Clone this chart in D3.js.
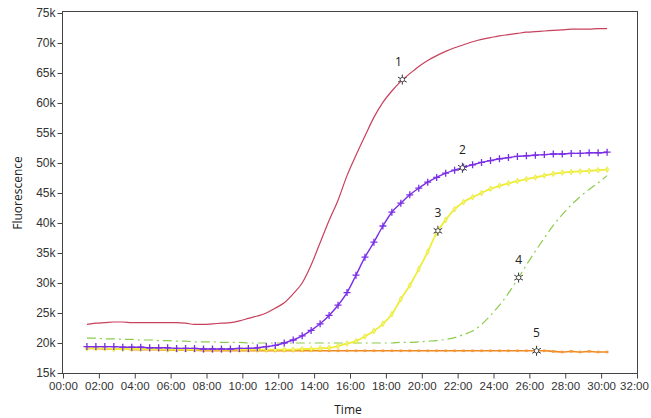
<!DOCTYPE html>
<html>
<head>
<meta charset="utf-8">
<script src="https://cdn.jsdelivr.net/npm/d3@7"></script>
<style>
  body { margin: 0; background: #fff; }
  svg { display: block; font-family: "Segoe UI", "Open Sans", sans-serif; }
</style>
</head>
<body>
<div id="chart"></div>
<script>
// Sampling times (minutes)
const times = [80,110,140,170,200,230,260,290,320,350,380,410,440,470,500,530,560,590,620,650,
  680,710,740,770,800,830,860,890,920,950,980,1010,1040,1070,1100,1130,1160,1190,1220,1250,
  1280,1310,1340,1370,1400,1430,1460,1490,1520,1550,1580,1610,1640,1670,1700,1730,1760,1790,1820];

// Fluorescence values (thousands)
const curve1 = [23.1,23.3,23.4,23.5,23.5,23.4,23.4,23.4,23.4,23.4,
  23.4,23.3,23.1,23.1,23.2,23.3,23.4,23.7,24.1,24.5,
  25.0,25.8,26.7,28.2,30.0,33.0,36.7,40.4,43.8,47.9,
  51.3,54.5,57.6,60.1,62.0,63.6,64.9,66.1,67.1,67.9,
  68.6,69.2,69.7,70.2,70.6,70.9,71.2,71.4,71.6,71.8,
  71.9,72.0,72.1,72.2,72.3,72.3,72.3,72.4,72.4];
const curve2 = [19.4,19.4,19.4,19.4,19.3,19.3,19.3,19.2,19.2,19.2,
  19.1,19.1,19.1,19.0,19.0,19.0,19.0,19.1,19.1,19.2,
  19.4,19.6,20.0,20.5,21.2,22.1,23.2,24.6,26.3,28.4,
  31.3,34.3,36.8,39.5,41.8,43.3,44.7,45.8,46.8,47.6,
  48.3,48.8,49.3,49.7,50.1,50.4,50.7,50.9,51.1,51.2,
  51.3,51.4,51.5,51.5,51.6,51.6,51.7,51.7,51.8];
const curve3 = [19.1,19.1,19.1,19.0,19.0,19.0,19.0,19.0,19.0,18.9,
  18.9,18.9,18.9,18.9,18.9,18.9,18.9,18.9,18.9,18.9,
  18.9,18.9,18.9,18.9,19.0,19.0,19.1,19.2,19.5,19.9,
  20.3,21.1,22.0,23.2,24.8,27.3,29.6,32.3,35.2,38.4,
  40.5,42.3,43.5,44.3,45.0,45.7,46.2,46.6,47.0,47.3,
  47.6,47.9,48.2,48.4,48.5,48.6,48.7,48.8,48.9];
const curve4 = [20.8,20.8,20.7,20.7,20.6,20.6,20.5,20.5,20.4,20.4,
  20.3,20.3,20.2,20.2,20.2,20.1,20.1,20.1,20.0,20.0,
  20.0,20.0,20.0,20.0,20.0,20.0,20.0,20.0,20.0,20.0,
  20.0,20.0,20.0,20.0,20.0,20.1,20.1,20.2,20.3,20.4,
  20.6,20.9,21.4,22.0,23.1,24.6,26.3,28.3,30.6,33.0,
  35.3,37.5,39.6,41.4,43.0,44.4,45.6,46.7,47.9];
const curve5 = [19.1,19.1,19.0,19.0,19.0,18.9,18.9,18.9,18.9,18.8,
  18.8,18.8,18.8,18.7,18.7,18.7,18.7,18.7,18.7,18.7,
  18.7,18.7,18.7,18.7,18.7,18.7,18.7,18.7,18.7,18.7,
  18.7,18.7,18.7,18.7,18.7,18.7,18.7,18.7,18.7,18.7,
  18.7,18.7,18.7,18.7,18.7,18.7,18.7,18.7,18.7,18.7,
  18.7,18.7,18.6,18.5,18.6,18.5,18.6,18.5,18.5];

// Labelled points on each curve
const noteLabels = ["1", "2", "3", "4", "5"];
const noteTimes = [1135, 1336, 1254, 1524, 1584];
const noteValues = [63.9, 49.2, 38.7, 30.9, 18.7];

const width = 651, height = 418;
const margins = {top: 13, right: 14, bottom: 45, left: 63};

const svg = d3.select("#chart")
  .append("svg")
  .attr("width", width)
  .attr("height", height);

const x = d3.scaleLinear()
  .domain([0, 1920])
  .range([margins.left, width - margins.right]);

const y = d3.scaleLinear()
  .domain([15, 75])
  .range([height - margins.bottom, margins.top]);

// Plot frame
svg.append("rect")
  .attr("x", margins.left - 0.5)
  .attr("y", margins.top - 1.5)
  .attr("width", width - margins.right - margins.left + 1)
  .attr("height", height - margins.bottom - margins.top + 2)
  .attr("fill", "none")
  .attr("stroke", "#444")
  .attr("stroke-width", 1);

// Axes
const fmtTime = m => d3.format("02d")(Math.floor(m / 60)) + ":00";

const xAxis = d3.axisBottom(x)
  .tickValues(d3.range(0, 1921, 120))
  .tickFormat(fmtTime)
  .tickSize(5)
  .tickPadding(3);

svg.append("g")
    .attr("transform", `translate(0,${height - margins.bottom + 0.5})`)
  .call(xAxis)
  .call(g => g.select(".domain").remove())
  .call(g => g.selectAll("line").attr("stroke", "#444"))
  .call(g => g.selectAll("text").attr("fill", "#333").style("font-size", "11.5px"))
  // keep the last label inside the window
  .call(g => g.selectAll("text").filter(d => d === 1920).attr("dx", "-3"));

const yAxis = d3.axisLeft(y)
  .tickValues(d3.range(15, 76, 5))
  .tickFormat(d => d + "k")
  .tickSize(5)
  .tickPadding(2);

svg.append("g")
    .attr("transform", `translate(${margins.left - 0.5},0)`)
  .call(yAxis)
  .call(g => g.select(".domain").remove())
  .call(g => g.selectAll("line").attr("stroke", "#444"))
  .call(g => g.selectAll("text").attr("fill", "#333").style("font-size", "12px"));

// Axis titles
svg.append("text")
  .attr("x", (margins.left + width - margins.right) / 2 - 2)
  .attr("y", 414)
  .attr("text-anchor", "middle")
  .style("font-size", "12px")
  .attr("fill", "#222")
  .text("Time");

svg.append("text")
  .attr("transform", `translate(22,${(margins.top + height - margins.bottom) / 2}) rotate(-90)`)
  .attr("text-anchor", "middle")
  .style("font-size", "12px")
  .attr("fill", "#222")
  .text("Fluorescence");

const line = d3.line()
  .curve(d3.curveMonotoneX)
  .x(d => x(d[0]))
  .y(d => y(d[1]));

const pts = vals => times.map((t, i) => [t, vals[i]]);

const plot = svg.append("g");

// Curve 4: green dash-dot
plot.append("path")
  .attr("d", line(pts(curve4)))
  .attr("fill", "none")
  .attr("stroke", "#8ccc4c")
  .attr("stroke-width", 1.2)
  .attr("stroke-dasharray", "9,4,2,4");

// Curve 5: orange with dots
plot.append("path")
  .attr("d", line(pts(curve5)))
  .attr("fill", "none")
  .attr("stroke", "#f08a24")
  .attr("stroke-width", 1.6);
plot.append("g")
  .selectAll("rect")
  .data(pts(curve5))
  .join("rect")
    .attr("x", d => x(d[0]) - 1.3)
    .attr("y", d => y(d[1]) - 1.3)
    .attr("width", 2.6)
    .attr("height", 2.6)
    .attr("fill", "#f39a3a");

// Curve 3: yellow with small markers
plot.append("path")
  .attr("d", line(pts(curve3)))
  .attr("fill", "none")
  .attr("stroke", "#eeee3a")
  .attr("stroke-width", 1.8);
plot.append("g")
  .selectAll("path")
  .data(pts(curve3))
  .join("path")
    .attr("transform", d => `translate(${x(d[0])},${y(d[1])})`)
    .attr("d", d3.symbol(d3.symbolDiamond, 10))
    .attr("fill", "#f6f66a")
    .attr("stroke", "#dede2a")
    .attr("stroke-width", 0.5);

// Curve 2: purple with + markers
plot.append("path")
  .attr("d", line(pts(curve2)))
  .attr("fill", "none")
  .attr("stroke", "#7a2ee6")
  .attr("stroke-width", 1.4);
plot.append("g")
  .selectAll("path")
  .data(pts(curve2))
  .join("path")
    .attr("transform", d => `translate(${x(d[0])},${y(d[1])})`)
    .attr("d", "M-3.5,0H3.5M0,-3.5V3.5")
    .attr("stroke", "#7a2ee6")
    .attr("stroke-width", 1.3);

// Curve 1: crimson line
plot.append("path")
  .attr("d", line(pts(curve1)))
  .attr("fill", "none")
  .attr("stroke", "#c8405c")
  .attr("stroke-width", 1.2);

// Annotations
const notes = noteLabels.map((l, i) => ({label: l, t: noteTimes[i], v: noteValues[i]}));

const ng = svg.append("g")
  .selectAll("g")
  .data(notes)
  .join("g")
    .attr("transform", d => `translate(${x(d.t)},${y(d.v)})`);

ng.append("path")
  .attr("d", d3.symbol(d3.symbolAsterisk, 70))
  .attr("fill", "none")
  .attr("stroke", "#333")
  .attr("stroke-width", 1);
ng.append("circle")
  .attr("r", 2.2)
  .attr("fill", "#fff")
  .attr("stroke", "#333")
  .attr("stroke-width", 0.8);
ng.append("text")
  .attr("x", (d, i) => i === 0 ? -4 : 0)
  .attr("y", -14)
  .attr("text-anchor", "middle")
  .style("font-size", "12px")
  .attr("fill", "#222")
  .text(d => d.label);
</script>
</body>
</html>
